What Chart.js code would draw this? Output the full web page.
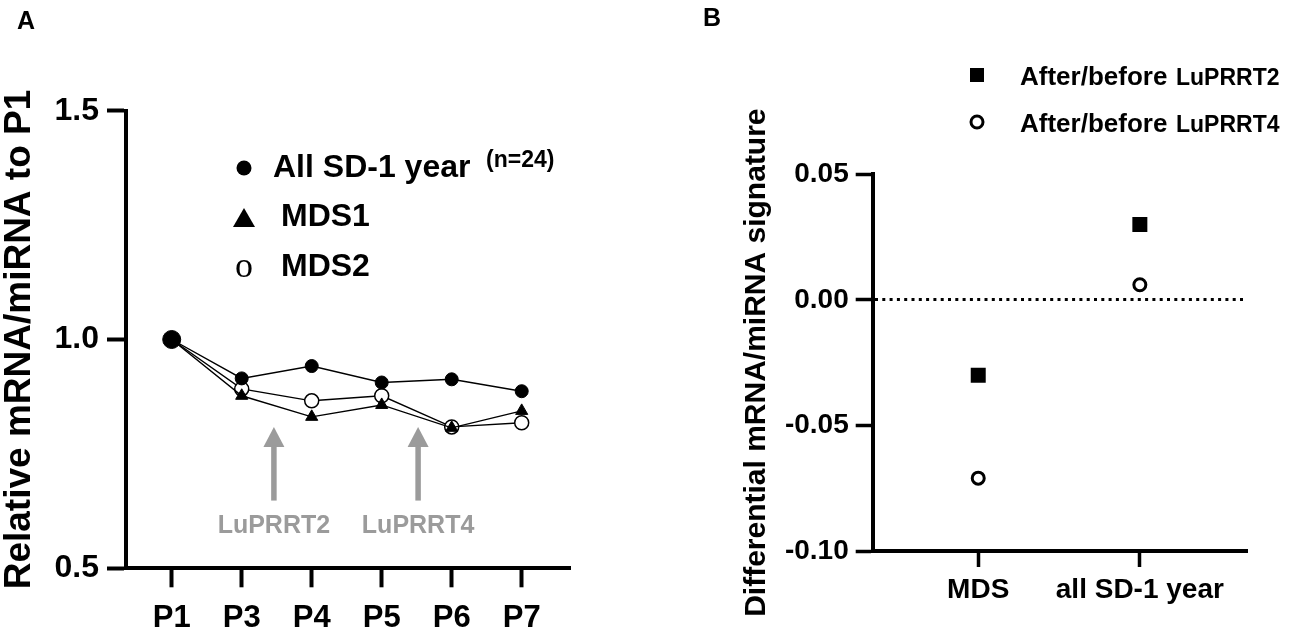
<!DOCTYPE html>
<html><head><meta charset="utf-8">
<script src="https://cdn.jsdelivr.net/npm/chart.js@4.4.1/dist/chart.umd.min.js"></script>
<style>
html,body{margin:0;padding:0;background:#fff;}
#wrap{position:relative;width:1299px;height:634px;overflow:hidden;background:#fff;}
#cA{position:absolute;left:0;top:0;}
#cB{position:absolute;left:650px;top:0;}
</style></head><body>
<div id="wrap">
<canvas id="cA" width="650" height="634"></canvas>
<canvas id="cB" width="649" height="634"></canvas>
</div>
<script>
// ---------- Data (panel A) ----------
const timepoints = ['P1', 'P3', 'P4', 'P5', 'P6', 'P7'];
const allSD = [1.000, 0.915, 0.942, 0.906, 0.913, 0.887];
const mds1  = [1.000, 0.877, 0.831, 0.857, 0.807, 0.844];
const mds2  = [1.000, 0.892, 0.866, 0.877, 0.809, 0.818];
const yTicksA = [0.5, 1.0, 1.5];
const treatmentsA = ['LuPRRT2', 'LuPRRT4'];
const treatmentPosA = [1.46, 3.52];   // between P3/P4 and P5/P6

// ---------- Data (panel B) ----------
const groupsB = ['MDS', 'all SD-1 year'];
const afterLu2 = [-0.030, 0.030];
const afterLu4 = [-0.071, 0.006];
const yTicksB = [-0.10, -0.05, 0.00, 0.05];

const FAM = "'Liberation Sans', Arial, Helvetica, sans-serif";
const toXY = arr => arr.map((v, i) => ({x: i, y: v}));
Chart.defaults.font.family = FAM;
Chart.defaults.color = '#000';

// ---------- Panel A annotations / legend ----------
const annotA = {
  id: 'annotA',
  afterDraw(chart) {
    const ctx = chart.ctx, xs = chart.scales.x, ys = chart.scales.y;
    ctx.save();
    ctx.fillStyle = '#000';
    ctx.font = 'bold 25px ' + FAM;
    ctx.textAlign = 'center'; ctx.textBaseline = 'middle';
    ctx.fillText('A', 26, 22);
    // y title
    ctx.save();
    ctx.translate(30, (chart.chartArea.top + chart.chartArea.bottom) / 2);
    ctx.rotate(-Math.PI / 2);
    ctx.font = 'bold 37px ' + FAM;
    ctx.textAlign = 'center'; ctx.textBaseline = 'alphabetic';
    ctx.fillText('Relative mRNA/miRNA to P1', 0, 0);
    ctx.restore();
    // arrows
    ctx.fillStyle = '#9b9b9b';
    treatmentPosA.forEach((p, i) => {
      const x = xs.getPixelForValue(p);
      const yTip = ys.getPixelForValue(0.809);
      const yBot = ys.getPixelForValue(0.648);
      const headH = 20, headW = 21, shaftW = 5.5;
      ctx.beginPath();
      ctx.moveTo(x, yTip);
      ctx.lineTo(x + headW / 2, yTip + headH);
      ctx.lineTo(x - headW / 2, yTip + headH);
      ctx.closePath(); ctx.fill();
      ctx.fillRect(x - shaftW / 2, yTip + headH - 1, shaftW, yBot - yTip - headH + 1);
      ctx.font = 'bold 25px ' + FAM;
      ctx.textAlign = 'center'; ctx.textBaseline = 'middle';
      ctx.fillText(treatmentsA[i], x, ys.getPixelForValue(0.593));
    });
    // legend
    ctx.fillStyle = '#000';
    ctx.beginPath(); ctx.arc(244, 168, 7.5, 0, Math.PI * 2); ctx.fill();
    ctx.textAlign = 'left'; ctx.textBaseline = 'middle';
    ctx.font = 'bold 32px ' + FAM;
    ctx.fillText('All SD-1 year', 273, 168);
    ctx.font = 'bold 23px ' + FAM;
    ctx.fillText('(n=24)', 486, 161);
    ctx.beginPath();
    ctx.moveTo(244, 208); ctx.lineTo(255, 227); ctx.lineTo(233, 227); ctx.closePath(); ctx.fill();
    ctx.font = 'bold 32px ' + FAM;
    ctx.fillText('MDS1', 281, 217);
    ctx.fillText('MDS2', 281, 267);
    ctx.font = "36px 'Liberation Serif', 'Times New Roman', serif";
    ctx.textAlign = 'center'; ctx.textBaseline = 'alphabetic';
    ctx.fillText('o', 244, 277);
    ctx.restore();
  }
};

new Chart(document.getElementById('cA'), {
  type: 'line',
  data: {
    datasets: [
      {label: 'All SD-1 year', data: toXY(allSD), borderColor: '#000', borderWidth: 1.4,
       pointStyle: 'circle', pointRadius: allSD.map((v, i) => i === 0 ? 9 : 6.5),
       pointBackgroundColor: '#000', pointBorderColor: '#000', pointBorderWidth: 1},
      {label: 'MDS1', data: toXY(mds1), borderColor: '#000', borderWidth: 1.4,
       pointStyle: 'triangle', pointRadius: 7,
       pointBackgroundColor: '#000', pointBorderColor: '#000', pointBorderWidth: 1},
      {label: 'MDS2', data: toXY(mds2), borderColor: '#000', borderWidth: 1.4,
       pointStyle: 'circle', pointRadius: 7,
       pointBackgroundColor: '#fff', pointBorderColor: '#000', pointBorderWidth: 1.5}
    ]
  },
  options: {
    responsive: false, animation: false, devicePixelRatio: 1,
    layout: {padding: {top: 110.7, right: 80, left: 0, bottom: 0}},
    plugins: {legend: {display: false}, tooltip: {enabled: false}},
    elements: {line: {tension: 0}},
    scales: {
      x: {
        type: 'linear', min: -0.653, max: 5.69,
        afterBuildTicks: s => { s.ticks = timepoints.map((t, i) => ({value: i})); },
        afterFit: s => { s.height = 634 - 568.3; },
        ticks: {callback: v => timepoints[v], font: {size: 31, weight: 'bold'}, color: '#000',
                padding: 12.5, autoSkip: false, maxRotation: 0},
        grid: {drawOnChartArea: false, drawTicks: true, tickLength: 19, tickWidth: 4, tickColor: '#000'},
        border: {display: true, width: 4, color: '#000'}
      },
      y: {
        type: 'linear', min: 0.5, max: 1.5,
        afterBuildTicks: s => { s.ticks = yTicksA.map(v => ({value: v})); },
        afterFit: s => { s.width = 126; },
        ticks: {callback: v => v.toFixed(1), font: {size: 32, weight: 'bold'}, color: '#000', padding: 8},
        grid: {drawOnChartArea: false, drawTicks: true, tickLength: 19, tickWidth: 4, tickColor: '#000'},
        border: {display: true, width: 4, color: '#000'}
      }
    }
  },
  plugins: [annotA]
});

// ---------- Panel B ----------
const annotB = {
  id: 'annotB',
  afterDraw(chart) {
    const ctx = chart.ctx;
    ctx.save();
    ctx.fillStyle = '#000';
    ctx.font = 'bold 25px ' + FAM;
    ctx.textAlign = 'center'; ctx.textBaseline = 'middle';
    ctx.fillText('B', 62, 19);
    // y title
    ctx.save();
    ctx.translate(115, (chart.chartArea.top + chart.chartArea.bottom) / 2);
    ctx.rotate(-Math.PI / 2);
    ctx.font = 'bold 30px ' + FAM;
    ctx.textAlign = 'center'; ctx.textBaseline = 'alphabetic';
    ctx.fillText('Differential mRNA/miRNA signature', 0, 0);
    ctx.restore();
    // legend
    ctx.fillRect(327 - 7, 75 - 7, 14, 14);
    ctx.beginPath(); ctx.arc(327, 122, 6, 0, Math.PI * 2);
    ctx.lineWidth = 3; ctx.strokeStyle = '#000'; ctx.fillStyle = '#fff'; ctx.fill(); ctx.stroke();
    ctx.fillStyle = '#000';
    ctx.textAlign = 'left'; ctx.textBaseline = 'alphabetic';
    [['LuPRRT2', 75], ['LuPRRT4', 122]].forEach(([t, y]) => {
      ctx.font = 'bold 26px ' + FAM;
      ctx.fillText('After/before', 370, y + 10);
      ctx.font = 'bold 23px ' + FAM;
      ctx.fillText(t, 526, y + 10);
    });
    ctx.restore();
  }
};

new Chart(document.getElementById('cB'), {
  type: 'scatter',
  data: {
    datasets: [
      {label: 'After/before LuPRRT2', data: toXY(afterLu2), pointStyle: 'rect', pointRadius: 10.6,
       pointBackgroundColor: '#000', pointBorderColor: '#000', pointBorderWidth: 0},
      {label: 'After/before LuPRRT4', data: toXY(afterLu4), pointStyle: 'circle', pointRadius: 6,
       pointBackgroundColor: '#fff', pointBorderColor: '#000', pointBorderWidth: 3}
    ]
  },
  options: {
    responsive: false, animation: false, devicePixelRatio: 1,
    layout: {padding: {top: 174.3, right: 649 - 597, left: 0, bottom: 0}},
    plugins: {legend: {display: false}, tooltip: {enabled: false}},
    scales: {
      x: {
        type: 'linear', min: -0.653, max: 1.663,
        afterBuildTicks: s => { s.ticks = groupsB.map((g, i) => ({value: i})); },
        afterFit: s => { s.height = 634 - 551; },
        ticks: {callback: v => groupsB[v], font: {size: 28, weight: 'bold'}, color: '#000',
                padding: 6.3, autoSkip: false, maxRotation: 0},
        grid: {drawOnChartArea: false, drawTicks: true, tickLength: 16, tickWidth: 3.5, tickColor: '#000'},
        border: {display: true, width: 4, color: '#000'}
      },
      y: {
        type: 'linear', min: -0.10, max: 0.05,
        afterBuildTicks: s => { s.ticks = yTicksB.map(v => ({value: v})); },
        afterFit: s => { s.width = 222.7; },
        ticks: {callback: v => v.toFixed(2), font: {size: 28, weight: 'bold'}, color: '#000', padding: 7},
        grid: {drawOnChartArea: true, drawTicks: true, tickLength: 17, tickWidth: 3.5, tickColor: '#000',
               color: c => (c.tick && Math.abs(c.tick.value) < 1e-9) ? '#000' : 'rgba(0,0,0,0)',
               lineWidth: 3},
        border: {display: true, width: 4, color: '#000', dash: [3, 4.3]}
      }
    }
  },
  plugins: [annotB]
});
</script>
</body></html>
